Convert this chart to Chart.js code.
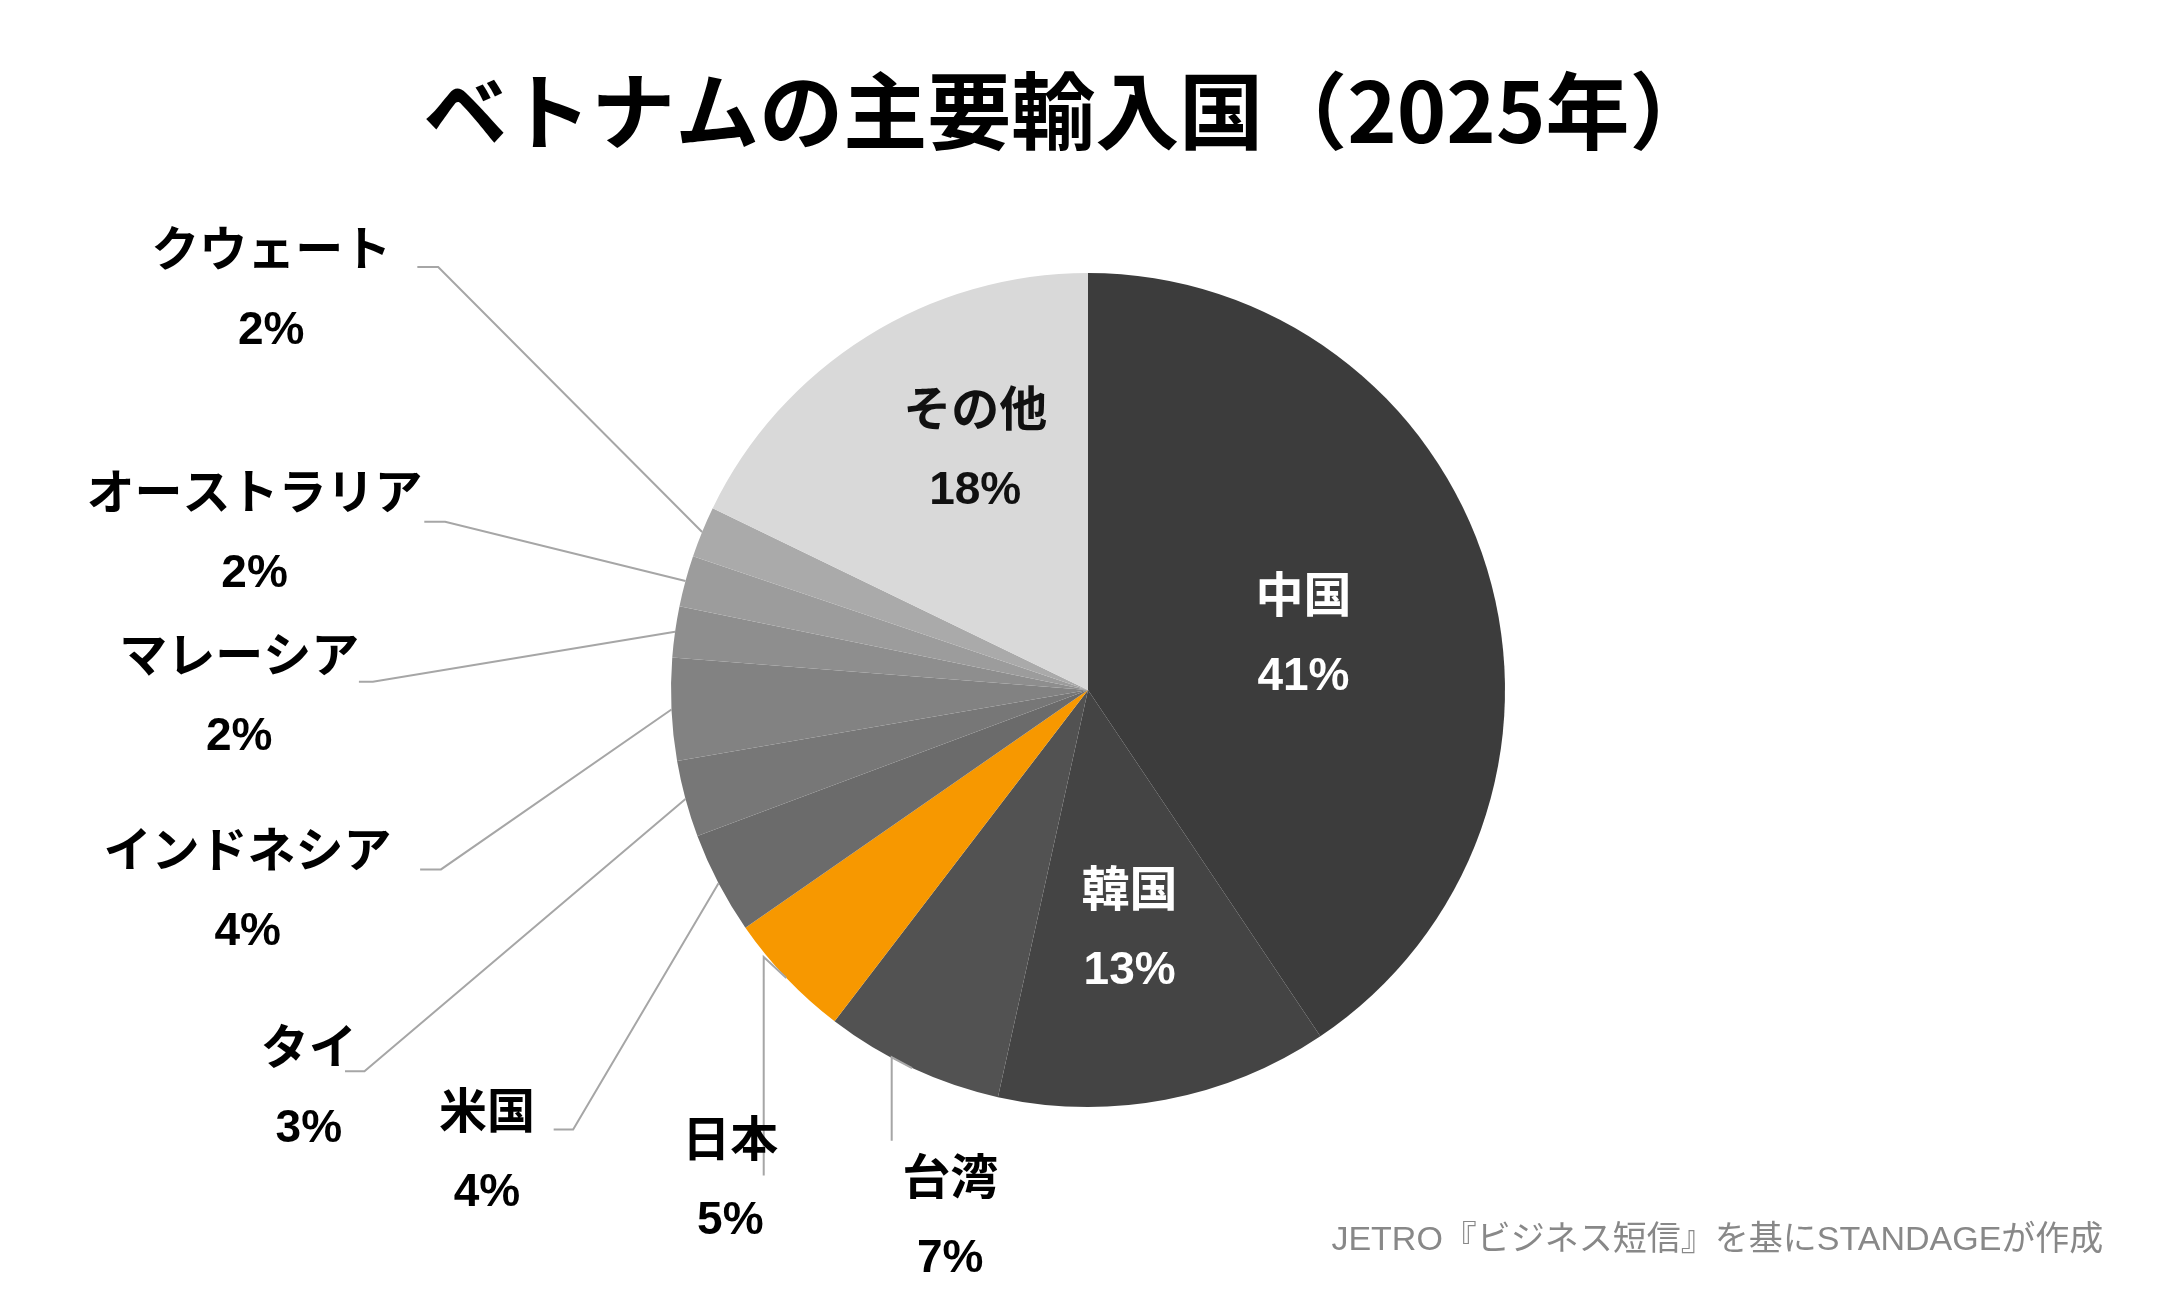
<!DOCTYPE html>
<html>
<head>
<meta charset="utf-8">
<script src="https://cdn.jsdelivr.net/npm/chart.js@4"></script>
<style>
  html, body { margin: 0; padding: 0; background: #fff; }
  canvas { display: block; }
</style>
</head>
<body>
<canvas id="c" width="2159" height="1308"></canvas>
<script>
const countries = ['中国', '韓国', '台湾', '日本', '米国', 'タイ', 'インドネシア', 'マレーシア', 'オーストラリア', 'クウェート', 'その他'];
const shares = [41, 13, 7, 5, 4, 3, 4, 2, 2, 2, 18];
const sliceColors = ['#3c3c3c', '#444444', '#525252', '#f79800', '#6b6b6b', '#777777', '#828282', '#8e8e8e', '#9c9c9c', '#aaaaaa', '#d9d9d9'];

const S = 2159 / 1552;
const FONT = '"Noto Sans CJK JP", "Liberation Sans", sans-serif';

// label placement (in 1552-wide units), pointer elbow, inside labels have no line
const labelPos = {
  '中国':          { x: 937, y: 427, color: '#fff' },
  '韓国':          { x: 812, y: 638, color: '#fff' },
  'その他':        { x: 701, y: 293, color: '#111' },
  '台湾':          { x: 683, y: 845, line: [[641, 820], [641, 760]] },
  '日本':          { x: 525, y: 818, line: [[549, 845], [549, 688]] },
  '米国':          { x: 350, y: 798, line: [[398, 812], [412, 812]] },
  'タイ':          { x: 222, y: 752, line: [[248, 770], [262, 770]] },
  'インドネシア':  { x: 178, y: 610, line: [[302, 625], [317, 625]] },
  'マレーシア':    { x: 172, y: 470, line: [[258, 490], [268, 490]] },
  'オーストラリア':{ x: 183, y: 353, line: [[305, 375], [320, 375]] },
  'クウェート':    { x: 195, y: 178, line: [[300, 192], [315, 192]] },
};

const labelPlugin = {
  id: 'labels',
  afterDraw(chart) {
    const ctx = chart.ctx;
    const meta = chart.getDatasetMeta(0);
    ctx.save();
    // title
    ctx.fillStyle = '#000';
    ctx.font = 'bold 84px ' + FONT;
    ctx.textAlign = 'center';
    ctx.textBaseline = 'middle';
    ctx.fillText('ベトナムの主要輸入国（2025年）', 768 * S, 80 * S);

    meta.data.forEach((arc, i) => {
      const name = countries[i];
      const p = labelPos[name];
      if (p.line) {
        const mid = (arc.startAngle + arc.endAngle) / 2;
        const ex = arc.x + Math.cos(mid) * arc.outerRadius;
        const ey = arc.y + Math.sin(mid) * arc.outerRadius;
        ctx.strokeStyle = '#a6a6a6';
        ctx.lineWidth = 2;
        ctx.beginPath();
        ctx.moveTo(p.line[0][0] * S, p.line[0][1] * S);
        ctx.lineTo(p.line[1][0] * S, p.line[1][1] * S);
        ctx.lineTo(ex, ey);
        ctx.stroke();
      }
      ctx.fillStyle = p.color || '#000';
      ctx.font = 'bold 48px ' + FONT;
      ctx.fillText(name, p.x * S, p.y * S);
      ctx.font = 'bold 46px "Liberation Sans", sans-serif';
      ctx.fillText(shares[i] + '%', p.x * S, (p.y + 60) * S);
    });

    ctx.fillStyle = '#888';
    ctx.font = '34px "Liberation Sans", "Noto Sans CJK JP", sans-serif';
    ctx.textAlign = 'right';
    ctx.fillText('JETRO『ビジネス短信』を基にSTANDAGEが作成', 1512 * S, 892 * S);
    ctx.restore();
  }
};

new Chart(document.getElementById('c'), {
  type: 'pie',
  data: {
    labels: countries,
    datasets: [{ data: shares, backgroundColor: sliceColors, borderWidth: 0 }]
  },
  options: {
    responsive: false,
    animation: false,
    devicePixelRatio: 1,
    layout: { padding: { top: 273, bottom: 201, left: 671, right: 654 } },
    plugins: { legend: { display: false }, tooltip: { enabled: false } }
  },
  plugins: [labelPlugin]
});
</script>
</body>
</html>
